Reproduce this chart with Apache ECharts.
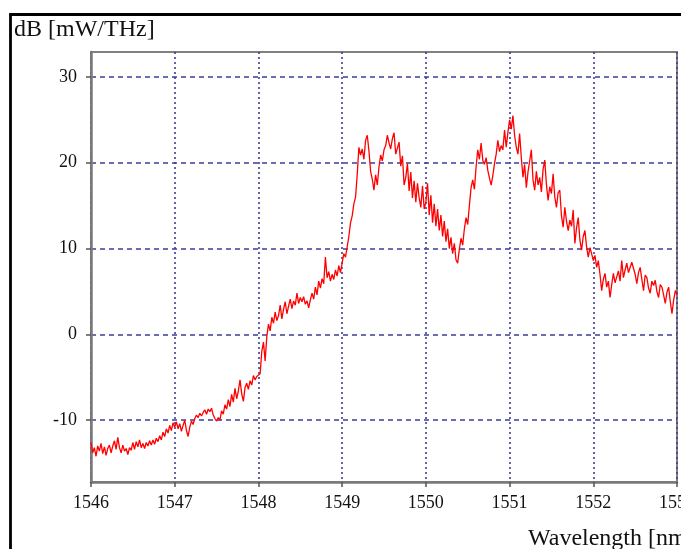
<!DOCTYPE html>
<html>
<head>
<meta charset="utf-8">
<script src="https://cdn.jsdelivr.net/npm/echarts@6/dist/echarts.min.js"></script>
<style>
  html, body { margin: 0; padding: 0; background: #fff; overflow: hidden; }
  #chart { width: 681px; height: 549px; }
</style>
</head>
<body>
<div id="chart"></div>
<script>
// Optical spectrum sampled every 0.02 nm starting at 1546 nm
const wlStart = 1546;
const wlStep = 0.02;

// Power spectral density, dB [mW/THz]
const power = [
  // 1546.00 - 1546.98
  -12.6,-13.8,-13.2,-14.2,-13.0,-13.6,-12.7,-13.9,-13.1,-14.1,
  -13.3,-12.9,-13.8,-13.0,-12.4,-13.4,-12.0,-13.2,-13.8,-12.9,
  -13.6,-13.3,-14.0,-13.2,-13.5,-12.6,-13.4,-12.5,-13.1,-12.3,
  -13.2,-12.7,-13.3,-12.6,-13.0,-12.4,-12.9,-12.3,-12.8,-12.1,
  -12.5,-11.8,-12.3,-11.4,-11.9,-11.0,-11.5,-10.6,-11.2,-10.3,
  // 1547.00 - 1547.98
  -10.8,-10.2,-11.0,-10.4,-11.3,-10.6,-10.0,-11.2,-11.9,-10.8,
  -10.1,-10.5,-9.8,-9.4,-9.7,-9.2,-9.5,-9.1,-8.8,-9.3,
  -8.7,-9.0,-8.6,-9.4,-9.8,-10.1,-9.7,-10.0,-8.9,-9.3,
  -8.2,-8.7,-7.6,-8.4,-7.0,-7.9,-6.3,-7.5,-6.6,-5.3,
  -6.9,-7.8,-6.2,-5.7,-6.4,-5.4,-5.9,-4.8,-5.3,-4.9,
  // 1548.00 - 1548.98
  -5.1,-4.6,-2.0,-0.9,-3.1,-0.3,1.2,0.4,2.0,1.3,
  2.6,1.6,2.2,3.4,1.8,2.9,3.8,2.4,3.3,4.1,
  3.0,3.9,3.4,4.8,3.6,4.3,3.8,4.4,3.5,3.9,
  3.1,4.0,4.8,4.1,5.5,4.6,6.2,5.4,6.5,5.9,
  9.0,6.6,7.3,6.2,7.0,6.4,7.5,6.8,8.0,7.2,
  // 1549.00 - 1549.98
  8.3,9.4,9.0,10.2,11.4,13.0,13.8,15.2,16.0,18.6,
  21.8,20.9,21.6,20.4,22.6,23.2,21.4,19.0,18.1,16.8,
  18.6,17.4,19.5,20.9,20.2,21.5,22.0,23.2,22.3,21.6,
  22.8,23.5,21.0,20.8,22.4,19.6,20.8,17.4,18.3,19.9,
  16.7,18.9,15.9,17.9,15.4,17.6,15.9,14.8,17.3,14.6,
  // 1550.00 - 1550.98
  15.4,17.6,13.9,16.2,13.0,15.2,12.6,14.6,12.1,13.9,
  11.4,13.2,10.8,12.3,10.0,11.3,9.4,10.6,8.7,8.3,
  9.9,11.2,10.4,12.3,13.6,12.8,15.0,17.1,18.0,16.9,
  19.5,21.5,20.4,22.3,20.3,19.8,20.6,19.1,18.2,17.4,
  18.5,19.9,21.0,22.6,21.3,22.0,21.5,23.8,21.8,23.5,
  // 1551.00 - 1551.98
  25.0,23.9,25.5,23.2,21.8,21.0,23.4,20.6,18.3,19.8,
  17.1,18.9,20.2,21.5,18.0,16.8,19.0,17.4,18.3,16.6,
  19.2,20.3,17.5,15.6,17.2,16.4,18.7,16.0,14.8,16.5,
  16.8,13.8,12.5,14.8,13.2,12.1,13.3,12.6,14.5,10.6,
  12.4,13.6,11.0,9.8,11.4,12.1,10.2,9.0,10.1,9.4,
  // 1552.00 - 1552.98
  8.6,9.2,7.8,8.6,7.0,5.1,6.4,7.1,5.5,6.2,
  4.3,5.8,7.1,6.0,5.9,7.4,6.2,8.6,6.6,7.5,
  8.3,7.2,7.8,8.4,8.6,7.0,5.9,7.2,7.8,6.4,
  5.1,6.9,6.6,5.4,4.8,6.2,5.7,6.3,5.0,4.3,
  5.8,5.5,4.6,3.6,4.9,5.5,3.8,2.4,4.0,5.1,
  // 1553.00
  4.6
];

const yTicks = [-10, 0, 10, 20, 30];
const xMin = 1546, xMax = 1553;
const yMin = -17.2, yMax = 32.9;

const points = power.map((p, i) => [+(wlStart + i * wlStep).toFixed(2), p]);

const serif = '"Liberation Serif", "DejaVu Serif", serif';
const chart = echarts.init(document.getElementById('chart'), null, { renderer: 'canvas' });

chart.setOption({
  animation: false,
  backgroundColor: '#ffffff',
  grid: {
    left: 91, top: 52, width: 586, height: 430,
    show: true, borderColor: '#808080', borderWidth: 2,
    outerBoundsMode: 'none', containLabel: false
  },
  xAxis: {
    type: 'value', min: xMin, max: xMax, interval: 1,
    axisLine: { show: true, onZero: false, lineStyle: { color: '#7a7a7a', width: 2.5 } },
    axisTick: { show: true, length: 5, lineStyle: { color: '#555', width: 1.5 } },
    axisLabel: { color: '#111', fontFamily: serif, fontSize: 18, margin: 12,
                 formatter: v => String(v) },
    splitLine: { show: true, lineStyle: { color: '#3c3c98', width: 1.6, type: [2, 3] } }
  },
  yAxis: {
    type: 'value', min: yMin, max: yMax,
    axisLine: { show: true, onZero: false, lineStyle: { color: '#7a7a7a', width: 2.5 } },
    axisTick: { show: true, length: 5, customValues: yTicks, lineStyle: { color: '#555', width: 1.5 } },
    axisLabel: { color: '#111', fontFamily: serif, fontSize: 18, margin: 14, customValues: yTicks,
                 formatter: v => String(v) },
    splitLine: { show: true, lineStyle: { color: '#3c3c98', width: 1.6, type: [5, 4] } }
  },
  series: [{
    type: 'line',
    data: points,
    showSymbol: false,
    symbol: 'none',
    lineStyle: { color: '#ff0000', width: 1.3 },
    clip: true,
    z: 5
  }],
  graphic: [
    {
      type: 'rect', silent: true,
      shape: { x: 10.5, y: 14.5, width: 720, height: 600 },
      style: { fill: null, stroke: '#000', lineWidth: 2.8 }
    },
    {
      type: 'text', left: 14, top: 18, silent: true,
      style: { text: 'dB [mW/THz]', font: '24px ' + serif, fill: '#111' }
    },
    {
      type: 'text', left: 528, top: 527, silent: true,
      style: { text: 'Wavelength [nm]', font: '24px ' + serif, fill: '#111' }
    }
  ]
});
</script>
</body>
</html>
